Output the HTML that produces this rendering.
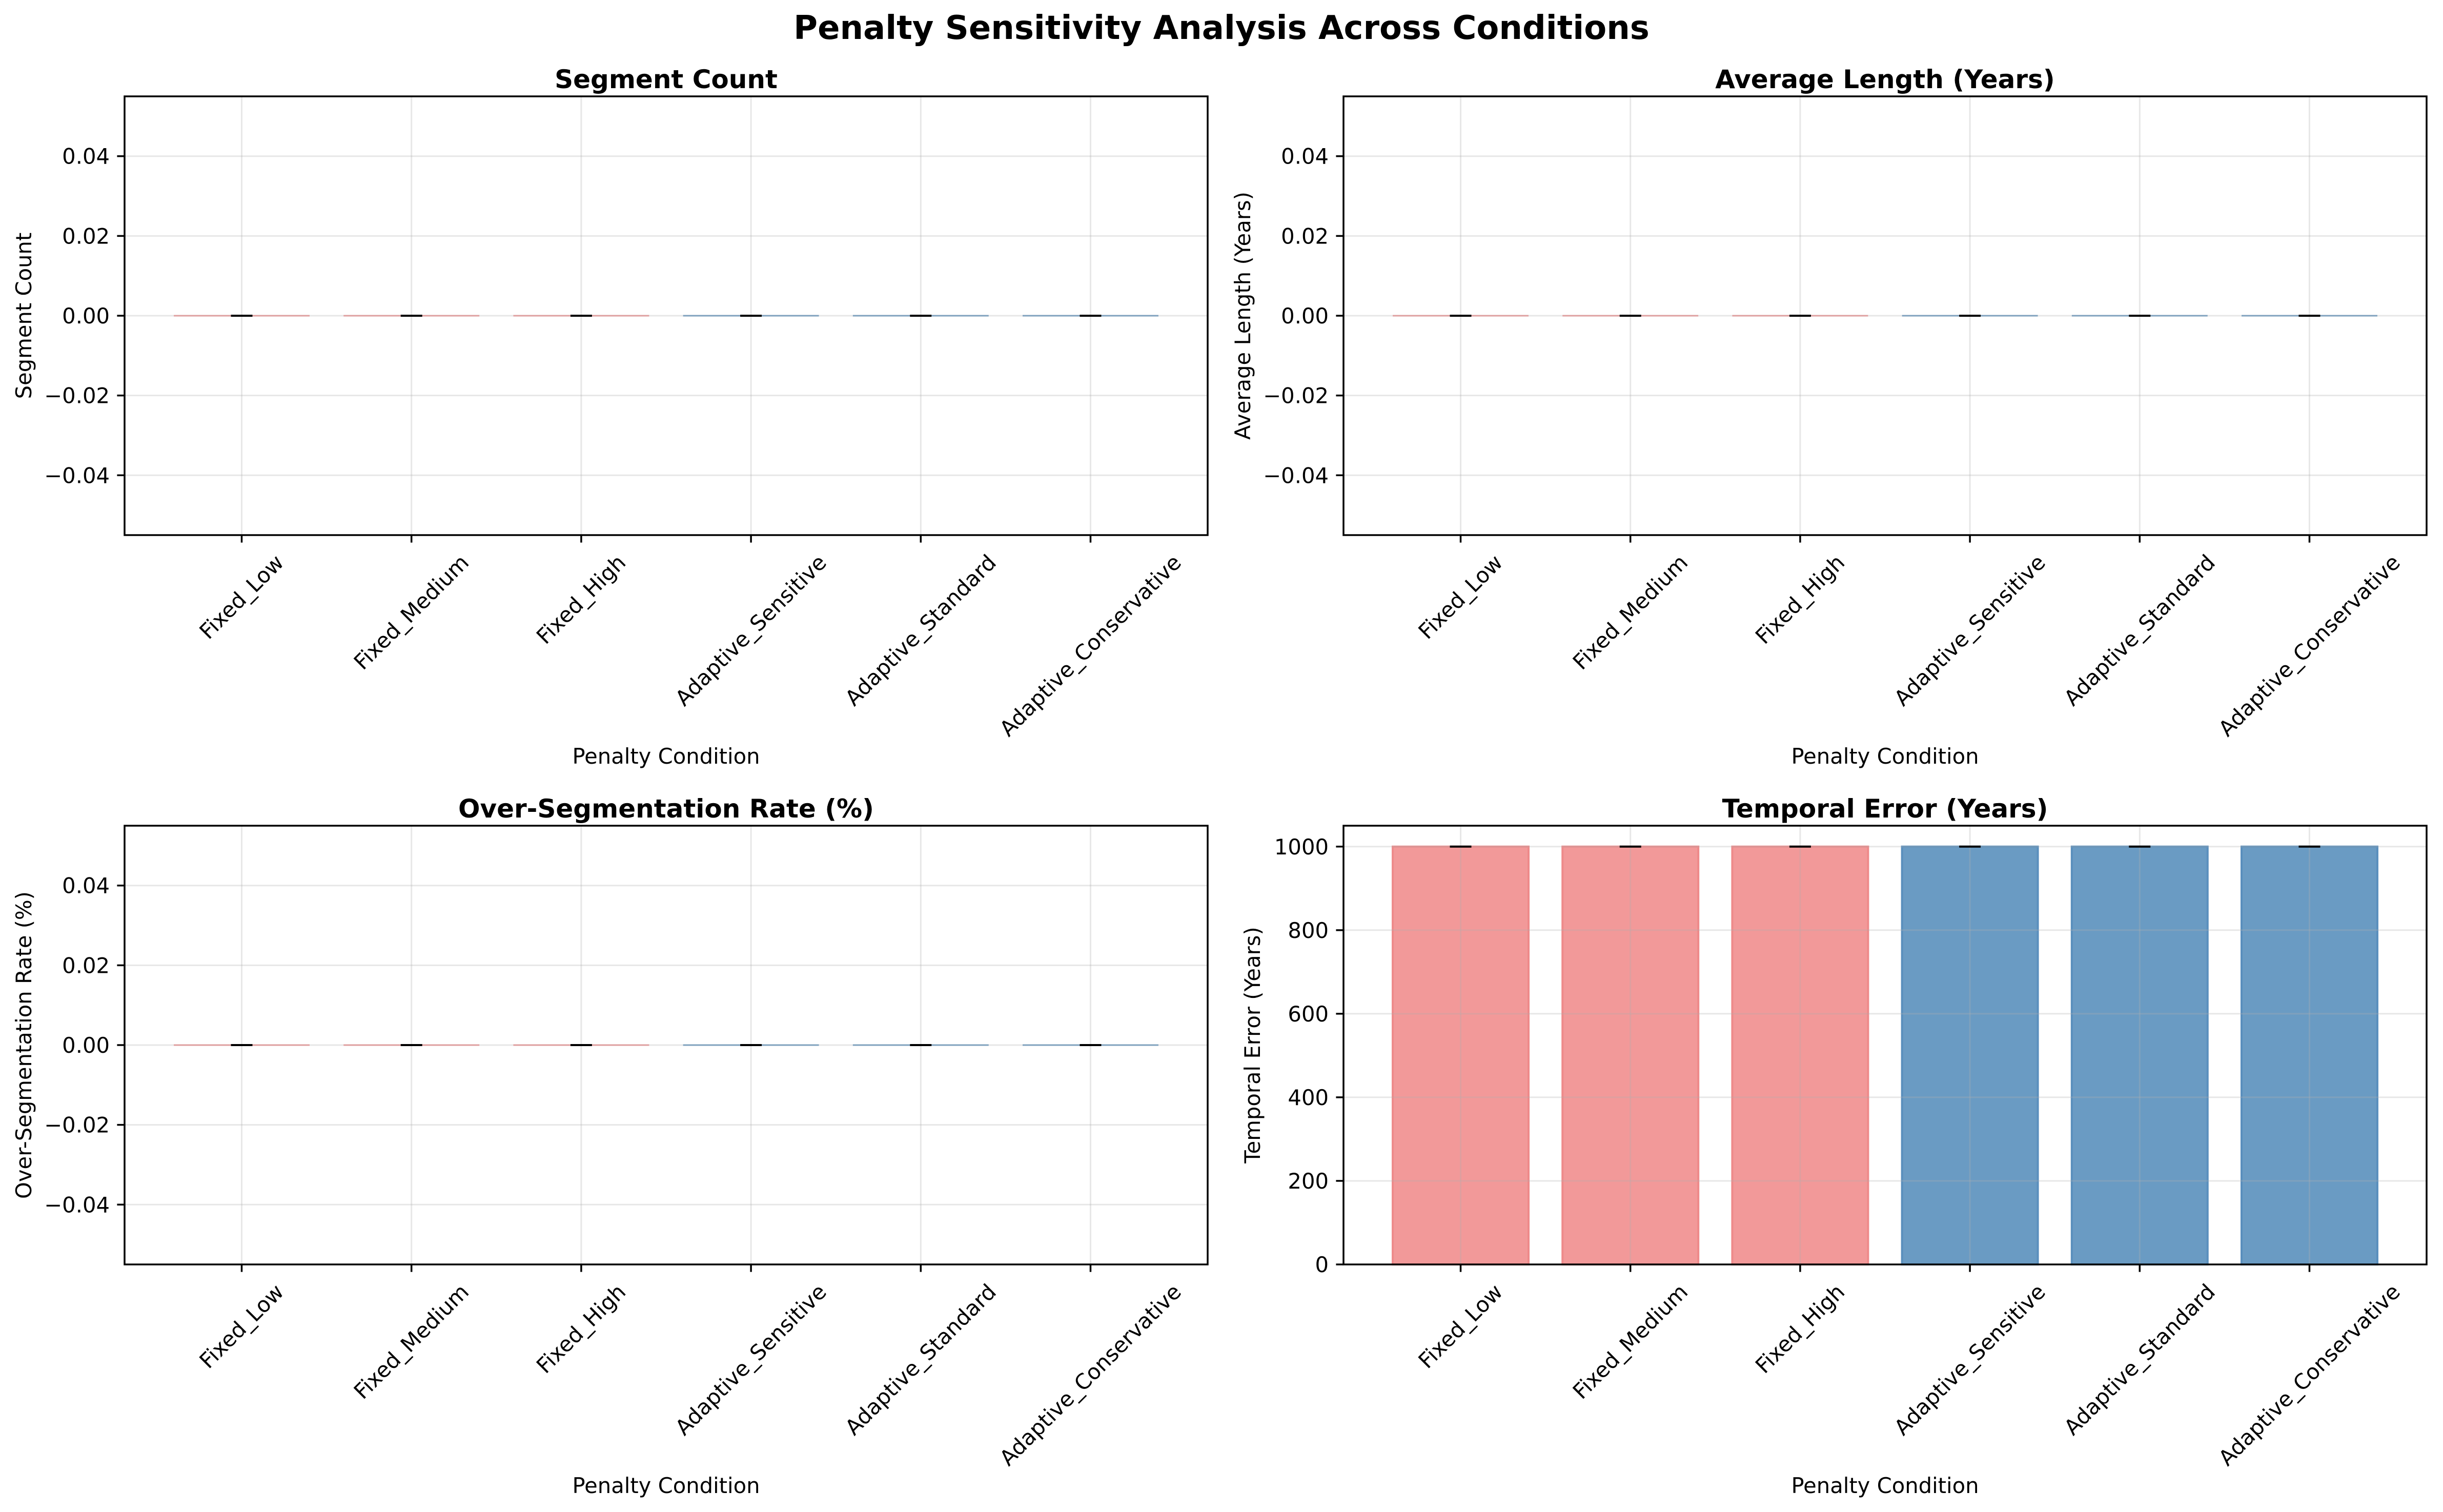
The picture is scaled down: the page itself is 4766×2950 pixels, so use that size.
<!DOCTYPE html>
<html><head><meta charset="utf-8"><style>
html,body{margin:0;padding:0;background:#fff;}
svg{display:block;font-family:"DejaVu Sans","Liberation Sans",sans-serif;}
</style></head><body>
<svg id="fig" width="4766" height="2950" viewBox="0 0 4766 2950" xmlns="http://www.w3.org/2000/svg">
<rect width="4766" height="2950" fill="#fff"/>
<text x="2383" y="76" text-anchor="middle" font-size="64" font-weight="bold">Penalty Sensitivity Analysis Across Conditions</text>
</svg>
<script>
const categories = ["Fixed_Low","Fixed_Medium","Fixed_High","Adaptive_Sensitive","Adaptive_Standard","Adaptive_Conservative"];
const segmentCount = [0,0,0,0,0,0];
const avgLength = [0,0,0,0,0,0];
const overSegRate = [0,0,0,0,0,0];
const temporalError = [1000,1000,1000,1000,1000,1000];
const errSegment = [0,0,0,0,0,0];
const errLength = [0,0,0,0,0,0];
const errOver = [0,0,0,0,0,0];
const errTemporal = [0,0,0,0,0,0];
const smallTicks = [-0.04,-0.02,0,0.02,0.04];
const smallTickLabels = ["\u22120.04","\u22120.02","0.00","0.02","0.04"];
const bigTicks = [0,200,400,600,800,1000];
const bigTickLabels = ["0","200","400","600","800","1000"];

const NS="http://www.w3.org/2000/svg";
const svg=document.getElementById('fig');
function mk(tag,attrs,parent){const e=document.createElementNS(NS,tag);for(const k in attrs)e.setAttribute(k,attrs[k]);(parent||svg).appendChild(e);return e;}
const fills=["#f29999","#f29999","#f29999","#6a9bc3","#6a9bc3","#6a9bc3"];
const edges=["#ee8a8a","#ee8a8a","#ee8a8a","#5a8fbd","#5a8fbd","#5a8fbd"];

const panels=[
 {title:"Segment Count",ylabel:"Segment Count",vals:segmentCount,errs:errSegment,ticks:smallTicks,labels:smallTickLabels,ymin:-0.055,ymax:0.055,L:243,T:188,name:"segment-count"},
 {title:"Average Length (Years)",ylabel:"Average Length (Years)",vals:avgLength,errs:errLength,ticks:smallTicks,labels:smallTickLabels,ymin:-0.055,ymax:0.055,L:2621,T:188,name:"average-length"},
 {title:"Over-Segmentation Rate (%)",ylabel:"Over-Segmentation Rate (%)",vals:overSegRate,errs:errOver,ticks:smallTicks,labels:smallTickLabels,ymin:-0.055,ymax:0.055,L:243,T:1611,name:"over-segmentation"},
 {title:"Temporal Error (Years)",ylabel:"Temporal Error (Years)",vals:temporalError,errs:errTemporal,ticks:bigTicks,labels:bigTickLabels,ymin:0,ymax:1050,L:2621,T:1611,name:"temporal-error"}
];
const W=2113,H=856;
panels.forEach(p=>{
  const g=mk('g',{});
  
  
  const xmin=-0.69,xmax=5.69;
  const X=v=>p.L+(v-xmin)/(xmax-xmin)*W;
  const Y=v=>p.T+H-(v-p.ymin)/(p.ymax-p.ymin)*H;
  const bw=0.8*W/(xmax-xmin);
  p.vals.forEach((v,i)=>{
    const y0=Y(Math.max(0,p.ymin)), y1=Y(v);
    const top=Math.min(y0,y1), h=Math.abs(y0-y1);
    const r=mk('rect',{x:X(i)-bw/2,y:top-(h<1?1.5:0),width:bw,height:Math.max(h,3),fill:fills[i],stroke:edges[i],'stroke-width':h<1?0:4},g);
    
    
  });
  categories.forEach((c,i)=>{mk('line',{x1:X(i),x2:X(i),y1:p.T,y2:p.T+H,stroke:'#b0b0b0','stroke-opacity':0.3,'stroke-width':3},g);});
  p.ticks.forEach(t=>{mk('line',{x1:p.L,x2:p.L+W,y1:Y(t),y2:Y(t),stroke:'#b0b0b0','stroke-opacity':0.3,'stroke-width':3},g);});
  p.vals.forEach((v,i)=>{
    const e=p.errs[i];
    mk('line',{x1:X(i),x2:X(i),y1:Y(v-e),y2:Y(v+e),stroke:'#000','stroke-width':4},g);
    const cap=mk('line',{x1:X(i)-21,x2:X(i)+21,y1:Y(v+e),y2:Y(v+e),stroke:'#000','stroke-width':4},g);
    
    
    if(e>0) mk('line',{x1:X(i)-21,x2:X(i)+21,y1:Y(v-e),y2:Y(v-e),stroke:'#000','stroke-width':4},g);
  });
  mk('rect',{x:p.L,y:p.T,width:W,height:H,fill:'none',stroke:'#000','stroke-width':3.5},g);
  p.ticks.forEach((t,k)=>{
    mk('line',{x1:p.L-14.6,x2:p.L,y1:Y(t),y2:Y(t),stroke:'#000','stroke-width':3.5},g);
    const tx=mk('text',{x:p.L-29,y:Y(t)+15,'text-anchor':'end','font-size':41.7},g);
    tx.textContent=p.labels[k];
    
    
  });
  categories.forEach((c,i)=>{
    mk('line',{x1:X(i),x2:X(i),y1:p.T+H,y2:p.T+H+14.6,stroke:'#000','stroke-width':3.5},g);
    const tx=mk('text',{'text-anchor':'middle','font-size':41.7},g);
    tx.textContent=c;
    
    
    const w=tx.getComputedTextLength(), h=41.7*1.17;
    const cy=p.T+H+29+(w+h)*0.7071/2;
    tx.setAttribute('x',X(i)); tx.setAttribute('y',cy+14);
    tx.setAttribute('transform','rotate(-45 '+X(i)+' '+cy+')');
  });
  const tt=mk('text',{x:p.L+W/2,y:p.T-16,'text-anchor':'middle','font-size':50,'font-weight':'bold'},g);
  tt.textContent=p.title;
  
  
  const xl=mk('text',{x:p.L+W/2,y:p.T+H+446,'text-anchor':'middle','font-size':41.7},g);
  xl.textContent="Penalty Condition";
  
  
  const yx=p.L-(p.ymax>1?163:182), yc=p.T+H/2;
  const yl=mk('text',{x:yx,y:yc,'text-anchor':'middle','font-size':41.7,transform:'rotate(-90 '+yx+' '+yc+')'},g);
  yl.textContent=p.ylabel;
  
  
});
</script>
</body></html>
